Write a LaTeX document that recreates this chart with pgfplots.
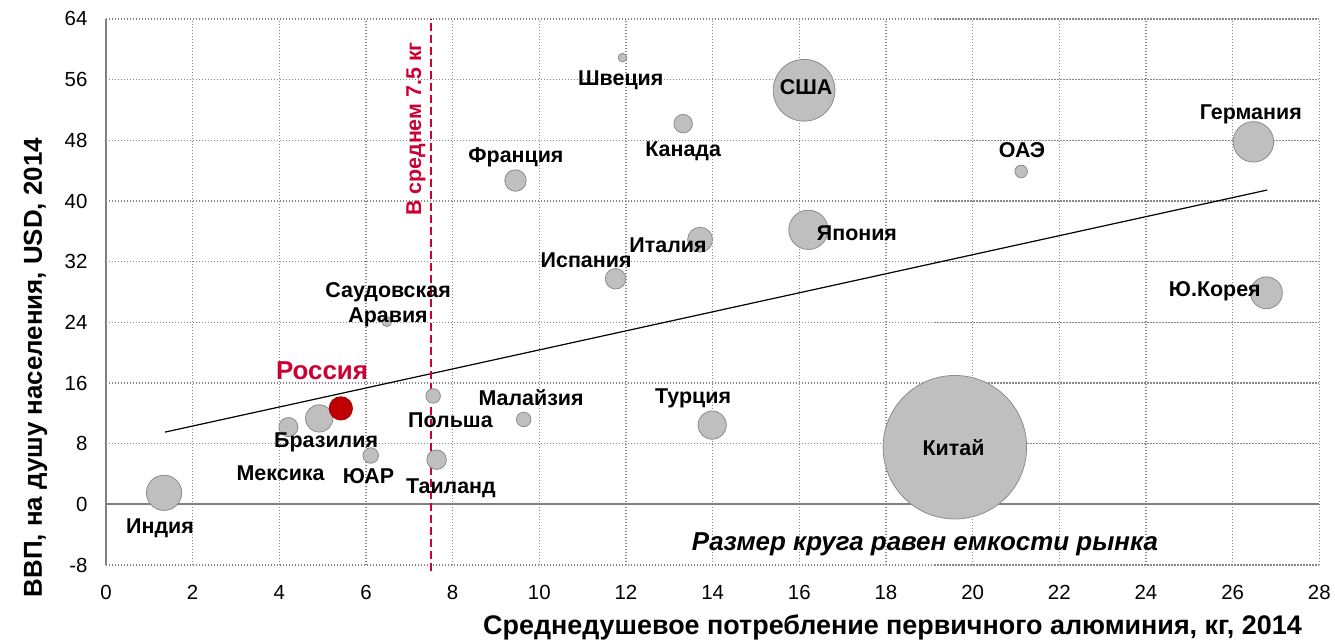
\documentclass[border=0pt]{standalone}
\usepackage{fontspec}
\setmainfont{Liberation Sans}
\usepackage{pgfplots}
\usepackage{pgfplotstable}
\pgfplotsset{compat=1.18}
\definecolor{bub}{RGB}{191,191,191}
\definecolor{bubedge}{RGB}{140,140,140}
\definecolor{rus}{RGB}{192,0,0}
\definecolor{crim}{RGB}{204,0,51}
\definecolor{axgray}{RGB}{128,128,128}
\definecolor{gridgray}{RGB}{135,135,135}
\tikzset{lab/.style={font=\fontsize{21.5}{25}\selectfont\bfseries, inner sep=0pt}}

\pgfplotstableread{
x y r
19.59 7.54 72
16.11 54.6 31
1.34 1.53 17.7
4.21 10.2 9.6
4.92 11.34 13.7
6.11 6.45 7.8
7.55 14.3 7.3
7.63 5.9 9.8
6.48 24.1 5
9.64 11.2 7.3
13.99 10.46 14.2
11.92 58.9 4.3
9.45 42.7 10.8
13.32 50.2 9.3
13.71 34.9 12.5
11.76 29.75 10.3
16.21 36.2 19.7
21.12 43.9 6.3
26.48 47.8 20.3
26.78 27.9 16
}\bubbles

\begin{document}
\begin{tikzpicture}
\begin{axis}[
  set layers,
  scale only axis, width=1213bp, height=546bp,
  xmin=0, xmax=28, ymin=-8, ymax=64,
  xtick={0,2,...,28}, ytick={-8,0,...,64},
  grid=major,
  major grid style={gridgray, line width=1.3bp, dash pattern=on 1.3bp off 1.7bp},
  axis line style={draw=none},
  major tick length=0pt,
  tick label style={font=\fontsize{20.5}{24}\selectfont},
  /pgf/number format/assume math mode=true,
  xticklabel style={yshift=-17bp},
  yticklabel style={xshift=-15bp},
  clip=false,
]
\coordinate (bbsw) at (axis cs:-2.446,-17.763);
\coordinate (bbne) at (axis cs:28.363,66.5);

\draw[axgray, line width=2bp] (axis cs:0,0) -- (axis cs:28,0);
\draw[axgray, line width=2bp] (axis cs:0,-8) -- (axis cs:0,64);

\addplot[scatter, only marks, mark=*,
  scatter/use mapped color={draw=bubedge, fill=bub},
  mark options={line width=0.8bp},
  visualization depends on={\thisrow{r}\as\rad},
  scatter/@pre marker code/.append style={/tikz/mark size=\rad}]
  table[x=x,y=y]{\bubbles};

\addplot[only marks, mark=*, mark size=11.7,
  mark options={fill=rus, draw=rus!85!black, line width=0.8bp}]
  coordinates {(5.42,12.66)};

\addplot[black, line width=1.2bp] coordinates {(1.36,9.53) (26.8,41.45)};

\addplot[crim, line width=2.5bp, dash pattern=on 8bp off 4bp]
  coordinates {(7.5,-8.8) (7.5,64)};

\begin{pgfonlayer}{axis foreground}
\node[lab] at (axis cs:1.246,-3.1) {Индия};
\node[lab] at (axis cs:4.03,4.12) {Мексика};
\node[lab] at (axis cs:5.08,8.21) {Бразилия};
\node[lab, text=crim, font=\fontsize{26}{30}\selectfont\bfseries] at (axis cs:4.985,17.64) {Россия};
\node[lab] at (axis cs:6.06,3.73) {ЮАР};
\node[lab] at (axis cs:7.95,11.05) {Польша};
\node[lab] at (axis cs:7.96,2.08) {Таиланд};
\node[lab] at (axis cs:9.81,14.08) {Малайзия};
\node[lab] at (axis cs:13.55,13.95) {Турция};
\node[lab] at (axis cs:19.56,7.49) {Китай};
\node[lab] at (axis cs:11.88,55.95) {Швеция};
\node[lab] at (axis cs:9.46,45.8) {Франция};
\node[lab] at (axis cs:13.32,46.6) {Канада};
\node[lab] at (axis cs:16.155,55.03) {США};
\node[lab] at (axis cs:12.97,34.19) {Италия};
\node[lab] at (axis cs:11.08,32.2) {Испания};
\node[lab] at (axis cs:17.33,35.78) {Япония};
\node[lab] at (axis cs:21.14,46.72) {ОАЭ};
\node[lab] at (axis cs:26.42,51.47) {Германия};
\node[lab] at (axis cs:25.59,28.13) {Ю.Корея};
\node[lab, align=center] at (axis cs:6.51,26.28) {Саудовская\\Аравия};
\node[lab, font=\fontsize{26}{30}\selectfont\bfseries\itshape] at (axis cs:18.9,-5.28) {Размер круга равен емкости рынка};
\node[lab, text=crim, rotate=90] at (axis cs:7.154,49.49) {В среднем 7.5 кг};

\node[font=\fontsize{27}{31}\selectfont\bfseries, inner sep=0pt, anchor=base] at (axis cs:18.15,-17.1) {Среднедушевое потребление первичного алюминия, кг, 2014};
\node[font=\fontsize{26}{30}\selectfont\bfseries, inner sep=0pt, anchor=base, rotate=90] at (axis cs:-1.477,18.04) {ВВП, на душу населения, USD, 2014};
\end{pgfonlayer}
\end{axis}
\pgfresetboundingbox
\path[use as bounding box] (bbsw) rectangle (bbne);
\end{tikzpicture}
\end{document}
